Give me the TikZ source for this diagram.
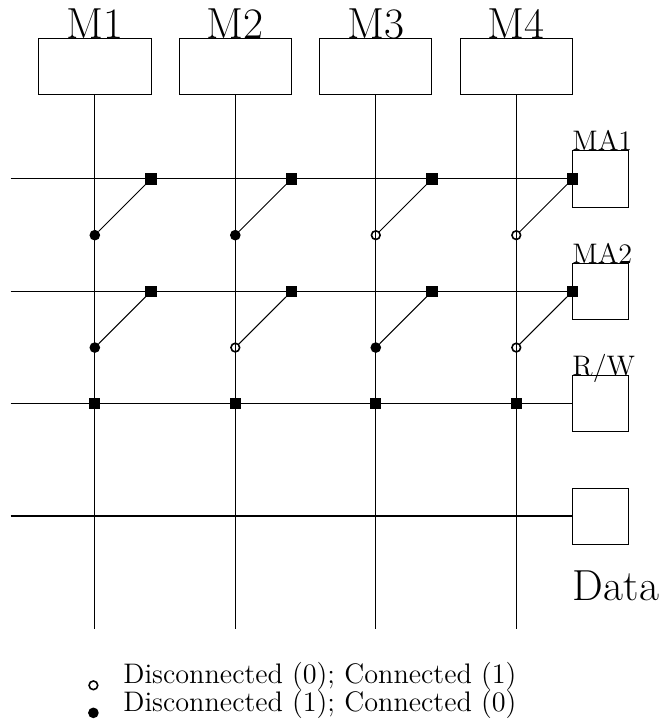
\documentclass[tikz,border=0pt]{standalone}
\usepackage{xcolor}
\usepackage{tikz}
\tikzset{
	membox/.style={draw, minimum width=2cm, minimum height=1cm, inner sep=0pt, outer sep=0pt},
	linebox/.style={draw, minimum width=1cm, minimum height=1cm, inner sep=0pt, outer sep=0pt},
	tap/.style={fill=black, minimum size=5.6pt, inner sep=0pt, outer sep=0pt},
	closed/.style={circle, fill=black, minimum size=5.4pt, inner sep=0pt, outer sep=0pt},
	open/.style={circle, draw, line width=0.8pt, minimum size=4.4pt, inner sep=0pt, outer sep=0pt},
	biglabel/.style={font=\fontsize{22}{24}\selectfont, inner sep=0pt},
	midlabel/.style={font=\fontsize{14.3}{16}\selectfont, inner sep=0pt, anchor=base west},
}
\begin{document}
\begin{tikzpicture}[x=0.5cm, y=0.5cm, line width=0.5pt]
	\useasboundingbox (-0.374,-3.29) rectangle (23.117,22.37);

	% memory boxes and bit lines
	\foreach \m/\x in {1/3,2/8,3/13,4/18} {
		\node[membox] (mem\m) at (\x,20) {};
		\node[biglabel, anchor=base] (memlabel\m) at (\x,21) {M\m};
		\coordinate (bit\m) at (\x,0);
		\draw (mem\m.south) -- (bit\m);
	}

	% line boxes
	\node[linebox] (ma1) at (21,16) {};
	\node[linebox] (ma2) at (21,12) {};
	\node[linebox] (rw) at (21,8) {};
	\node[linebox] (data) at (21,4) {};
	\node[midlabel] (ma1label) at (19.98,17) {MA1};
	\node[midlabel] (ma2label) at (19.98,13) {MA2};
	\node[midlabel] (rwlabel) at (19.98,9) {R/W};
	\node[biglabel, anchor=base west] (datalabel) at (20,1) {Data};

	% word lines
	\coordinate (startma1) at (0,16);
	\coordinate (startma2) at (0,12);
	\coordinate (startrw) at (0,8);
	\coordinate (startdata) at (0,4);
	\draw (startma1) -- (ma1.west);
	\draw (startma2) -- (ma2.west);
	\draw (startrw) -- (rw.west);
	\draw[line width=1pt] (startdata) -- (data.west);

	% switches
	\foreach \m/\x/\kind in {1/3/closed,2/8/closed,3/13/open,4/18/open} {
		\node[tap] (tapa\m) at (\x+2,16) {};
		\node[\kind] (swa\m) at (\x,14) {};
		\draw (swa\m) -- (tapa\m);
	}
	\foreach \m/\x/\kind in {1/3/closed,2/8/open,3/13/closed,4/18/open} {
		\node[tap] (tapb\m) at (\x+2,12) {};
		\node[\kind] (swb\m) at (\x,10) {};
		\draw (swb\m) -- (tapb\m);
	}
	\foreach \m/\x in {1/3,2/8,3/13,4/18} {
		\node[tap] (taprw\m) at (\x,8) {};
	}

	% legend
	\node[open] (keyopen) at (2.95,-2.02) {};
	\node[closed] (keyclosed) at (2.95,-3) {};
	\node[midlabel] (keyopentext) at (4,-1.96) {Disconnected (0); Connected (1)};
	\node[midlabel] (keyclosedtext) at (4,-2.95) {Disconnected (1); Connected (0)};
\end{tikzpicture}
\end{document}
